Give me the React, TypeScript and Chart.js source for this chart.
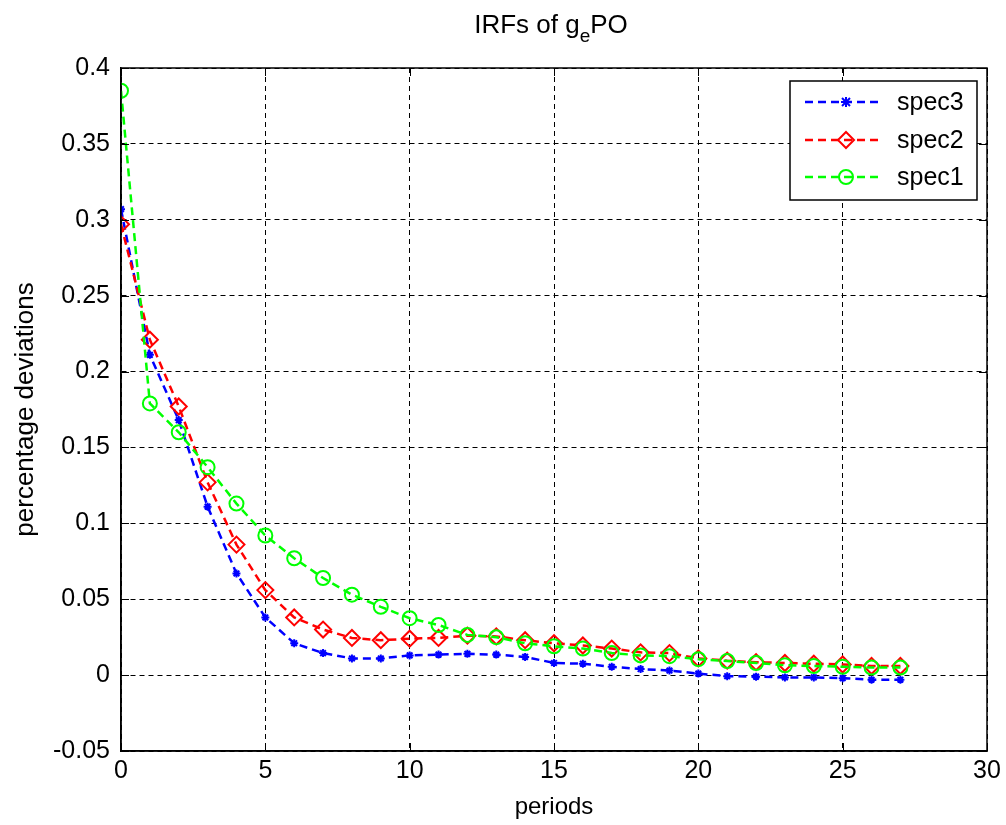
import React, { useEffect, useRef } from "react";
import { Chart, registerables } from "chart.js";

Chart.register(...registerables);

const periods = [0, 1, 2, 3, 4, 5, 6, 7, 8, 9, 10, 11, 12, 13, 14, 15, 16, 17, 18, 19, 20, 21, 22, 23, 24, 25, 26, 27];
const spec3 = [0.307, 0.211, 0.168, 0.111, 0.067, 0.038, 0.021, 0.0145, 0.011, 0.011, 0.013, 0.0135, 0.014, 0.0135, 0.012, 0.008, 0.0075, 0.0055, 0.004, 0.003, 0.001, -0.0007, -0.001, -0.0015, -0.0015, -0.002, -0.003, -0.003];
const spec2 = [0.297, 0.221, 0.177, 0.127, 0.086, 0.056, 0.038, 0.03, 0.0245, 0.023, 0.024, 0.0245, 0.026, 0.0255, 0.023, 0.021, 0.0195, 0.0175, 0.015, 0.0145, 0.011, 0.0095, 0.0085, 0.008, 0.0075, 0.007, 0.006, 0.006];
const spec1 = [0.385, 0.179, 0.16, 0.137, 0.113, 0.092, 0.077, 0.064, 0.053, 0.045, 0.0375, 0.033, 0.0265, 0.025, 0.021, 0.019, 0.0175, 0.0145, 0.013, 0.0125, 0.0105, 0.0093, 0.008, 0.0065, 0.006, 0.0055, 0.005, 0.005];
const seriesNames = ["spec3", "spec2", "spec1"];
const seriesColors = ["#0000ff", "#ff0000", "#00ff00"];
const xTicks = [0, 5, 10, 15, 20, 25, 30];
const yTicks = [-0.05, 0, 0.05, 0.1, 0.15, 0.2, 0.25, 0.3, 0.35, 0.4];

const FONT = "'Liberation Sans', Arial, sans-serif";

const toPts = (ys: number[]) => periods.map((p, i) => ({ x: p, y: ys[i] }));

const boxPlugin = {
  id: "boxPlugin",
  afterDraw(chart: any) {
    const { ctx, chartArea } = chart;
    const { left, right, top, bottom } = chartArea;
    const xs = chart.scales.x;
    const ys = chart.scales.y;
    ctx.save();
    ctx.strokeStyle = "#000";
    ctx.lineWidth = 1.5;
    ctx.setLineDash([]);
    ctx.strokeRect(left, top, right - left, bottom - top);
    ctx.lineWidth = 1;
    const tl = 8;
    ctx.beginPath();
    xTicks.forEach((t) => {
      const px = Math.round(xs.getPixelForValue(t)) + 0.5;
      ctx.moveTo(px, bottom);
      ctx.lineTo(px, bottom - tl);
      ctx.moveTo(px, top);
      ctx.lineTo(px, top + tl);
    });
    yTicks.forEach((t) => {
      const py = Math.round(ys.getPixelForValue(t)) + 0.5;
      ctx.moveTo(left, py);
      ctx.lineTo(left + tl, py);
      ctx.moveTo(right, py);
      ctx.lineTo(right - tl, py);
    });
    ctx.stroke();

    // Title with subscript
    ctx.fillStyle = "#000";
    ctx.textBaseline = "alphabetic";
    const p1 = "IRFs of g";
    const p3 = "PO";
    ctx.font = `19px ${FONT}`;
    const wSub = ctx.measureText("e").width;
    ctx.font = `26px ${FONT}`;
    const w1 = ctx.measureText(p1).width;
    const w3 = ctx.measureText(p3).width;
    const total = w1 + wSub + w3;
    const cx = 551;
    const x0 = cx - total / 2;
    const base = 33;
    ctx.textAlign = "left";
    ctx.fillText(p1, x0, base);
    ctx.font = `19px ${FONT}`;
    ctx.fillText("e", x0 + w1, base + 9);
    ctx.font = `26px ${FONT}`;
    ctx.fillText(p3, x0 + w1 + wSub, base);

    // Legend
    const lx = 790, ly = 81, lw = 187, lh = 119;
    ctx.fillStyle = "#fff";
    ctx.fillRect(lx, ly, lw, lh);
    ctx.strokeStyle = "#000";
    ctx.lineWidth = 1.5;
    ctx.strokeRect(lx, ly, lw, lh);
    const rows = [102, 140, 177];
    chart.data.datasets.forEach((ds: any, i: number) => {
      const y = rows[i];
      ctx.strokeStyle = ds.borderColor;
      ctx.lineWidth = 2.5;
      ctx.setLineDash([8, 5]);
      ctx.beginPath();
      ctx.moveTo(805, y);
      ctx.lineTo(882, y);
      ctx.stroke();
      ctx.setLineDash([]);
      ctx.lineWidth = 2;
      ctx.beginPath();
      if (ds.pointStyle === "circle") {
        ctx.arc(846, y, 7, 0, Math.PI * 2);
      } else if (ds.pointStyle === "rectRot") {
        ctx.moveTo(846, y - 8);
        ctx.lineTo(854, y);
        ctx.lineTo(846, y + 8);
        ctx.lineTo(838, y);
        ctx.closePath();
      } else {
        const r = 4;
        ctx.moveTo(846 - r, y - r); ctx.lineTo(846 + r, y + r);
        ctx.moveTo(846 - r, y + r); ctx.lineTo(846 + r, y - r);
        ctx.moveTo(846, y - r - 1); ctx.lineTo(846, y + r + 1);
        ctx.moveTo(846 - r - 1, y); ctx.lineTo(846 + r + 1, y);
      }
      ctx.stroke();
      ctx.fillStyle = "#000";
      ctx.font = `25px ${FONT}`;
      ctx.textBaseline = "middle";
      ctx.fillText(ds.label, 897, y + 1);
    });
    ctx.restore();
  },
};

export default function App() {
  const ref = useRef<HTMLCanvasElement | null>(null);
  useEffect(() => {
    if (!ref.current) return;
    const all = [spec3, spec2, spec1];
    const styles = ["star", "rectRot", "circle"];
    const radii = [4, 8, 7];
    const chart = new Chart(ref.current, {
      type: "line",
      data: {
        datasets: all.map((ys, i) => ({
          label: seriesNames[i],
          data: toPts(ys),
          borderColor: seriesColors[i],
          backgroundColor: "rgba(0,0,0,0)",
          borderWidth: 2.5,
          borderDash: [8, 5],
          pointStyle: styles[i],
          pointRadius: radii[i],
          pointBorderWidth: 2,
          pointBorderColor: seriesColors[i],
          pointBackgroundColor: "rgba(0,0,0,0)",
          tension: 0,
          order: 3 - i,
        })),
      },
      options: {
        animation: false,
        responsive: false,
        maintainAspectRatio: false,
        layout: { padding: { top: 68, right: 19, left: 0, bottom: 0 } },
        plugins: { legend: { display: false }, title: { display: false }, tooltip: { enabled: false } },
        scales: {
          x: {
            type: "linear",
            min: 0,
            max: 30,
            afterBuildTicks: (s: any) => { s.ticks = xTicks.map((v) => ({ value: v })); },
            afterFit: (s: any) => { s.height = 74; },
            ticks: { color: "#000", font: { family: FONT, size: 25 }, padding: 5, maxRotation: 0 },
            grid: { color: "#000", lineWidth: 1, drawTicks: false },
            border: { display: true, color: "#000", width: 1.5, dash: [5, 4] },
            title: { display: true, text: "periods", color: "#000", font: { family: FONT, size: 24 }, padding: { top: 0, bottom: 3 } },
          },
          y: {
            type: "linear",
            min: -0.05,
            max: 0.4,
            afterBuildTicks: (s: any) => { s.ticks = yTicks.map((v) => ({ value: v })); },
            afterFit: (s: any) => { s.width = 121; },
            ticks: {
              color: "#000",
              font: { family: FONT, size: 25 },
              padding: 11,
              callback: (v: any) => String(Math.round(Number(v) * 100) / 100),
            },
            grid: { color: "#000", lineWidth: 1, drawTicks: false },
            border: { display: true, color: "#000", width: 1.5, dash: [5, 4] },
            title: { display: true, text: "percentage deviations", color: "#000", font: { family: FONT, size: 26 }, padding: { top: 10, bottom: 0 } },
          },
        },
      },
      plugins: [boxPlugin],
    } as any);
    return () => chart.destroy();
  }, []);
  return (
    <div style={{ position: "fixed", left: 0, top: 0, width: 1006, height: 825, background: "#fff" }}>
      <canvas ref={ref} width={1006} height={825} style={{ width: 1006, height: 825 }} />
    </div>
  );
}
